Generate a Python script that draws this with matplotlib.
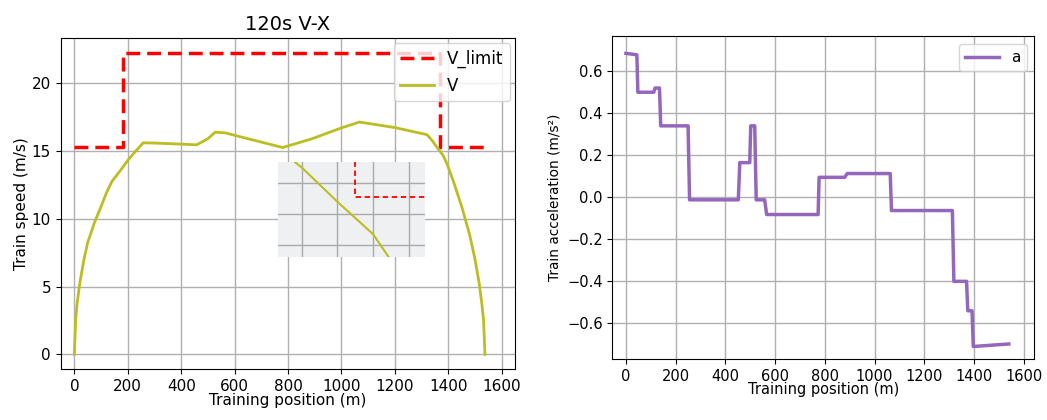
import matplotlib
matplotlib.use("Agg")
import matplotlib.pyplot as plt

# ---- data ----
limit_x = [0, 182, 182, 1370, 1370, 1535]
limit_v = [15.28, 15.28, 22.22, 22.22, 15.28, 15.28]

v_x = [0, 5, 10, 20, 35, 50, 75, 100, 120, 140, 170, 200, 230, 258,
       300, 400, 458, 500, 527, 565, 620, 700, 780, 890, 1000, 1067,
       1200, 1320, 1340, 1360, 1380, 1395, 1420, 1450, 1480, 1500,
       1515, 1525, 1532, 1537]
v_v = [0, 2.6, 3.7, 5.2, 6.9, 8.25, 9.7, 10.9, 11.9, 12.73, 13.5, 14.3, 15.0, 15.6,
       15.58, 15.5, 15.45, 15.9, 16.38, 16.33, 16.05, 15.65, 15.25, 15.9, 16.7, 17.13,
       16.72, 16.2, 15.75, 15.2, 14.68, 14.05, 12.7, 10.9, 8.8, 7.0,
       5.3, 3.8, 2.5, 0]

a_x = [0, 44, 48, 112, 117, 135, 140, 250, 256, 452, 458, 498, 502, 518, 524,
       558, 566, 773, 777, 880, 890, 1063, 1068, 1313, 1319, 1370, 1375,
       1392, 1397, 1540]
a_v = [0.685, 0.678, 0.50, 0.50, 0.52, 0.52, 0.34, 0.34, -0.012, -0.012, 0.165,
       0.165, 0.34, 0.34, -0.012, -0.012, -0.082, -0.082, 0.095, 0.095, 0.113,
       0.113, -0.063, -0.063, -0.40, -0.40, -0.54, -0.54, -0.71, -0.698]

x_ticks = [0, 200, 400, 600, 800, 1000, 1200, 1400, 1600]

fig = plt.figure(figsize=(10.47, 4.2), dpi=100)

# ---- left: speed ----
ax1 = fig.add_axes([0.058, 0.1207, 0.434, 0.788])
ax1.plot(limit_x, limit_v, color="red", ls="--", lw=2.5, label="V_limit", dashes=(4, 2))
ax1.plot(v_x, v_v, color="#bcbd22", lw=2, label="V")
ax1.set_xlim(-51, 1650)
ax1.set_ylim(-1.1, 23.3)
ax1.set_xticks(x_ticks)
ax1.set_yticks([0, 5, 10, 15, 20])
ax1.grid(True, color="#b0b0b0", lw=1)
ax1.tick_params(labelsize=11)
ax1.set_xlabel("Training position (m)", fontsize=11, labelpad=-1)
ax1.set_ylabel("Train speed (m/s)", fontsize=11, labelpad=2)
ax1.set_title("120s V-X", fontsize=14)
ax1.legend(loc="upper right", fontsize=12, borderaxespad=0.3)

# inset zoom
axin = fig.add_axes([0.2658, 0.3888, 0.1401, 0.2262])
axin.set_facecolor("#eef0f2")
axin.plot(limit_x, limit_v, color="red", ls="--", lw=1.3, dashes=(3, 2))
axin.plot(v_x, v_v, color="#bcbd22", lw=1.5)
axin.set_xlim(1327, 1409)
axin.set_ylim(14.32, 15.84)
axin.set_xticks([1340, 1360, 1380, 1400])
axin.set_yticks([14.5, 15.0, 15.5])
axin.grid(True, color="#aaaaaa", lw=1)
axin.tick_params(length=0, labelbottom=False, labelleft=False)
for s in axin.spines.values():
    s.set_visible(False)

# ---- right: acceleration ----
ax2 = fig.add_axes([0.585, 0.145, 0.403, 0.769])
ax2.plot(a_x, a_v, color="#9467bd", lw=2.5, label="a")
ax2.set_xlim(-54, 1643)
ax2.set_ylim(-0.77, 0.767)
ax2.set_xticks(x_ticks)
ax2.set_yticks([-0.6, -0.4, -0.2, 0.0, 0.2, 0.4, 0.6])
ax2.grid(True, color="#b0b0b0", lw=1)
ax2.tick_params(labelsize=10.5)
ax2.set_xlabel("Training position (m)", fontsize=10.5, labelpad=-1)
ax2.set_ylabel("Train acceleration (m/s²)", fontsize=9.8)
ax2.legend(loc="upper right", fontsize=11, borderaxespad=0.5, handlelength=2.2)

fig.savefig("out.png", dpi=100)
